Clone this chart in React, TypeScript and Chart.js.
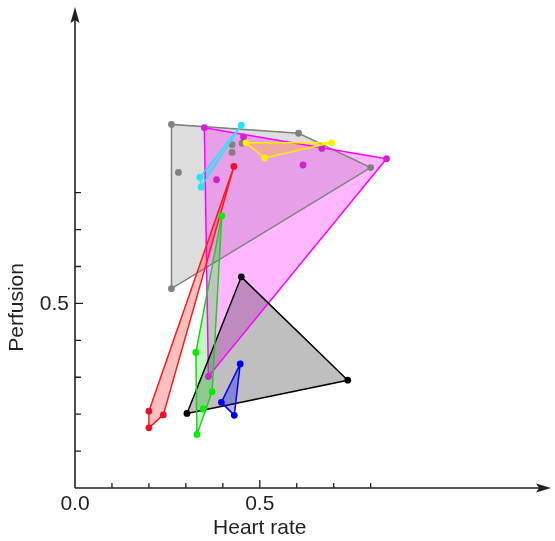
import React, { useEffect, useRef } from "react";
import { Chart, registerables } from "chart.js";

Chart.register(...registerables);

type P = { x: number; y: number };

// Heart rate (x) / Perfusion (y) samples per group
const grayPoints: P[] = [
  { x: 0.261, y: 0.985 }, { x: 0.605, y: 0.961 }, { x: 0.8, y: 0.868 },
  { x: 0.261, y: 0.54 }, { x: 0.28, y: 0.855 }, { x: 0.425, y: 0.93 },
  { x: 0.425, y: 0.909 }, { x: 0.452, y: 0.934 },
];
const magentaPoints: P[] = [
  { x: 0.35, y: 0.976 }, { x: 0.843, y: 0.892 }, { x: 0.361, y: 0.302 },
  { x: 0.456, y: 0.951 }, { x: 0.668, y: 0.92 }, { x: 0.617, y: 0.875 },
  { x: 0.383, y: 0.835 },
];
const cyanPoints: P[] = [
  { x: 0.45, y: 0.983 }, { x: 0.338, y: 0.842 }, { x: 0.341, y: 0.815 },
];
const yellowPoints: P[] = [
  { x: 0.463, y: 0.935 }, { x: 0.694, y: 0.935 }, { x: 0.513, y: 0.894 },
];
const redPoints: P[] = [
  { x: 0.43, y: 0.871 }, { x: 0.2, y: 0.208 }, { x: 0.239, y: 0.198 },
  { x: 0.2, y: 0.163 },
];
const greenPoints: P[] = [
  { x: 0.397, y: 0.737 }, { x: 0.327, y: 0.367 }, { x: 0.371, y: 0.261 },
  { x: 0.347, y: 0.214 }, { x: 0.33, y: 0.145 },
];
const blackPoints: P[] = [
  { x: 0.45, y: 0.572 }, { x: 0.738, y: 0.292 }, { x: 0.303, y: 0.202 },
];
const bluePoints: P[] = [
  { x: 0.447, y: 0.336 }, { x: 0.396, y: 0.232 }, { x: 0.431, y: 0.197 },
];

const xTickValues = [0.1, 0.2, 0.3, 0.4, 0.5, 0.6, 0.7, 0.8];
const yTickValues = [0.1, 0.2, 0.3, 0.4, 0.5, 0.6, 0.7, 0.8];
const xTickLabels = [{ v: 0, t: "0.0" }, { v: 0.5, t: "0.5" }];
const yTickLabels = [{ v: 0.5, t: "0.5" }];
const xTitle = "Heart rate";
const yTitle = "Perfusion";

function hull(pts: P[]): P[] {
  const s = [...pts].sort((a, b) => a.x - b.x || a.y - b.y);
  const cross = (o: P, a: P, b: P) => (a.x - o.x) * (b.y - o.y) - (a.y - o.y) * (b.x - o.x);
  const lower: P[] = [];
  for (const p of s) {
    while (lower.length >= 2 && cross(lower[lower.length - 2], lower[lower.length - 1], p) <= 0) lower.pop();
    lower.push(p);
  }
  const upper: P[] = [];
  for (let i = s.length - 1; i >= 0; i--) {
    const p = s[i];
    while (upper.length >= 2 && cross(upper[upper.length - 2], upper[upper.length - 1], p) <= 0) upper.pop();
    upper.push(p);
  }
  upper.pop();
  lower.pop();
  const h = lower.concat(upper);
  return [...h, h[0]];
}

// drawn bottom to top
const groups = [
  { pts: grayPoints, line: "#808080", point: "#808080", fill: "rgba(128,128,128,0.27)" },
  { pts: magentaPoints, line: "#ff00ff", point: "#d020d0", fill: "rgba(255,0,255,0.28)" },
  { pts: blackPoints, line: "#000000", point: "#000000", fill: "rgba(0,0,0,0.25)" },
  { pts: yellowPoints, line: "#ffee00", point: "#ffee00", fill: "rgba(255,190,0,0.3)" },
  { pts: cyanPoints, line: "#22e6f6", point: "#22e6f6", fill: "rgba(0,230,255,0.3)" },
  { pts: redPoints, line: "#ff1a1a", point: "#e8102a", fill: "rgba(255,0,0,0.25)" },
  { pts: greenPoints, line: "#22cc22", point: "#00ee00", fill: "rgba(0,230,0,0.25)" },
  { pts: bluePoints, line: "#0000ee", point: "#0000ee", fill: "rgba(0,0,255,0.3)" },
];

const AXIS = "#231f20";
const FONT = "'Liberation Sans', Arial, sans-serif";

const axesPlugin = {
  id: "arrowAxes",
  afterDraw(chart: any) {
    const { ctx, chartArea, scales } = chart;
    const xs = scales.x, ys = scales.y;
    const x0 = xs.getPixelForValue(0);
    const y0 = ys.getPixelForValue(0);
    ctx.save();
    ctx.strokeStyle = AXIS;
    ctx.fillStyle = AXIS;
    ctx.lineWidth = 1.6;
    ctx.beginPath();
    ctx.moveTo(x0, y0);
    ctx.lineTo(chartArea.right - 8, y0);
    ctx.moveTo(x0, y0);
    ctx.lineTo(x0, chartArea.top + 8);
    ctx.stroke();
    // arrowheads
    ctx.beginPath();
    ctx.moveTo(chartArea.right, y0);
    ctx.lineTo(chartArea.right - 15, y0 - 4.5);
    ctx.lineTo(chartArea.right - 12, y0);
    ctx.lineTo(chartArea.right - 15, y0 + 4.5);
    ctx.closePath();
    ctx.fill();
    ctx.beginPath();
    ctx.moveTo(x0, chartArea.top);
    ctx.lineTo(x0 - 4.5, chartArea.top + 16);
    ctx.lineTo(x0, chartArea.top + 13);
    ctx.lineTo(x0 + 4.5, chartArea.top + 16);
    ctx.closePath();
    ctx.fill();
    // ticks
    ctx.lineWidth = 1.3;
    ctx.beginPath();
    for (const v of xTickValues) {
      const px = xs.getPixelForValue(v);
      const len = Math.abs(v - 0.5) < 1e-9 ? 8 : 5;
      ctx.moveTo(px, y0);
      ctx.lineTo(px, y0 - len);
    }
    for (const v of yTickValues) {
      const py = ys.getPixelForValue(v);
      const len = Math.abs(v - 0.5) < 1e-9 ? 8 : 6;
      ctx.moveTo(x0, py);
      ctx.lineTo(x0 + len, py);
    }
    ctx.stroke();
    // labels
    ctx.font = `21px ${FONT}`;
    ctx.textBaseline = "middle";
    ctx.textAlign = "center";
    for (const l of xTickLabels) ctx.fillText(l.t, xs.getPixelForValue(l.v), y0 + 16);
    ctx.textAlign = "right";
    for (const l of yTickLabels) ctx.fillText(l.t, x0 - 6, ys.getPixelForValue(l.v) + 1);
    ctx.textAlign = "center";
    ctx.fillText(xTitle, xs.getPixelForValue(0.5), y0 + 40);
    ctx.save();
    ctx.translate(17, ys.getPixelForValue(0.5) + 4);
    ctx.rotate(-Math.PI / 2);
    ctx.fillText(yTitle, 0, 0);
    ctx.restore();
    ctx.restore();
  },
};

export default function App() {
  const ref = useRef<HTMLCanvasElement>(null);
  useEffect(() => {
    if (!ref.current) return;
    const datasets: any[] = [];
    const n = groups.length;
    groups.forEach((g, i) => {
      datasets.push({
        data: hull(g.pts),
        showLine: true,
        fill: "shape",
        backgroundColor: g.fill,
        borderColor: g.line,
        borderWidth: 1.5,
        pointRadius: 0,
        tension: 0,
        order: 2 * (n - i) + 1,
      });
      datasets.push({
        data: g.pts,
        showLine: false,
        fill: false,
        pointRadius: 3.4,
        pointBackgroundColor: g.point,
        pointBorderColor: g.point,
        pointBorderWidth: 0,
        order: 2 * (n - i),
      });
    });
    const chart = new Chart(ref.current, {
      type: "line",
      data: { datasets },
      options: {
        responsive: false,
        animation: false,
        events: [],
        layout: { padding: { left: 75, right: 2, top: 7, bottom: 53 } },
        plugins: {
          legend: { display: false },
          tooltip: { enabled: false },
          filler: { drawTime: "beforeDatasetsDraw" },
        },
        scales: {
          x: { type: "linear", min: 0, max: 1.288, display: false },
          y: { type: "linear", min: 0, max: 1.303, display: false },
        },
      },
      plugins: [axesPlugin],
    });
    return () => chart.destroy();
  }, []);
  return (
    <div style={{ position: "fixed", left: 0, top: 0, width: 555, height: 541, background: "#fff" }}>
      <canvas ref={ref} width={555} height={541} style={{ display: "block" }} />
    </div>
  );
}
